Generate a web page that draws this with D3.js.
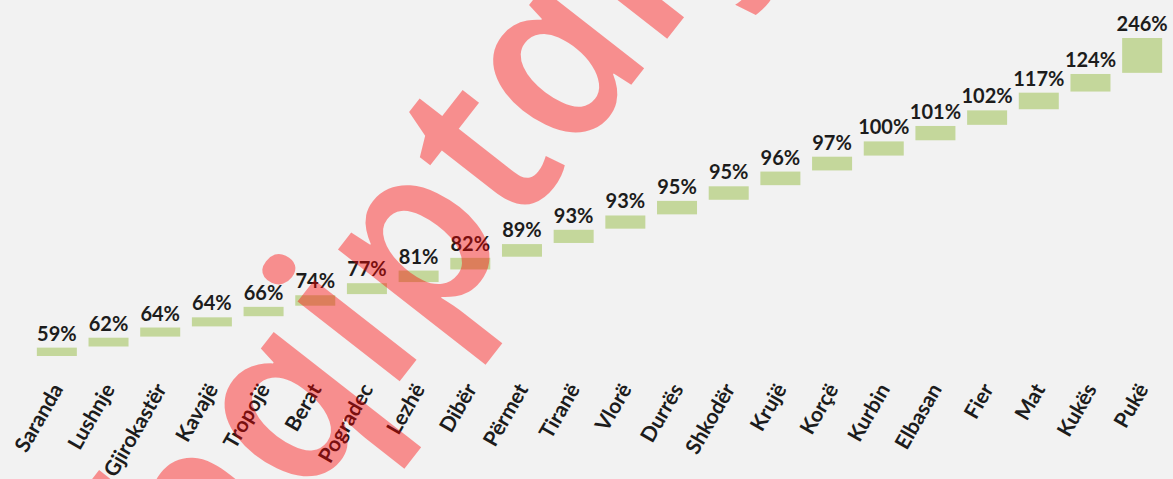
<!DOCTYPE html>
<html>
<head>
<meta charset="utf-8">
<script src="https://cdn.jsdelivr.net/npm/d3@7"></script>
<style>
  html, body { margin: 0; padding: 0; background: #f2f2f2; }
  svg { display: block; }
  .val { font-family: Lato, "Open Sans", sans-serif; font-weight: 700; font-size: 20px; fill: #1c1c1c; }
  .cat text { font-family: Lato, "Open Sans", sans-serif; font-weight: 700; font-size: 21px; fill: #1c1c1c; }
</style>
</head>
<body>
<div id="chart"></div>
<script>
// districts, sorted as in the picture
const districts = ["Saranda", "Lushnje", "Gjirokastër", "Kavajë", "Tropojë", "Berat", "Pogradec",
  "Lezhë", "Dibër", "Përmet", "Tiranë", "Vlorë", "Durrës", "Shkodër", "Krujë", "Korçë",
  "Kurbin", "Elbasan", "Fier", "Mat", "Kukës", "Pukë"];
// percent values
const values = [59, 62, 64, 64, 66, 74, 77, 81, 82, 89, 93, 93, 95, 95, 96, 97, 100, 101, 102, 117, 124, 246];

const watermark = "Shqiptarja.com";

const width = 1173, height = 479;
const gap = 8; // small space between the floating bars (value units)

// waterfall: each bar sits on top of the previous one
let acc = 0;
const rows = districts.map((d, i) => {
  const r = {name: d, value: values[i], base: acc};
  acc += values[i] + gap;
  return r;
});
const yMax = acc - gap;

const svg = d3.select("#chart").append("svg")
  .attr("width", width)
  .attr("height", height);

svg.append("rect").attr("width", width).attr("height", height).attr("fill", "#f2f2f2");

const x = d3.scaleBand()
  .domain(districts)
  .range([31, 1168])
  .paddingInner(0.226)
  .paddingOuter(0.113);

const y = d3.scaleLinear()
  .domain([0, yMax])
  .range([356, 38]);

svg.append("g")
  .selectAll("rect")
  .data(rows)
  .join("rect")
  .attr("x", d => x(d.name))
  .attr("width", x.bandwidth())
  .attr("y", d => y(d.base + d.value))
  .attr("height", d => y(d.base) - y(d.base + d.value))
  .attr("fill", "#c4d79b");

svg.append("g")
  .selectAll("text")
  .data(rows)
  .join("text")
  .attr("class", "val")
  .attr("x", d => x(d.name) + x.bandwidth() / 2)
  .attr("y", d => y(d.base + d.value) - 7)
  .attr("text-anchor", "middle")
  .text(d => d.value + "%");

const axis = svg.append("g")
  .attr("class", "cat")
  .attr("transform", "translate(0,389)")
  .call(d3.axisBottom(x).tickSize(0));
axis.select(".domain").remove();
axis.selectAll("text")
  .attr("x", 0).attr("y", 0).attr("dy", 0)
  .attr("text-anchor", "end")
  .attr("transform", "translate(7,0) rotate(-60)");

// red watermark across the chart
svg.append("text")
  .attr("transform", "translate(146,706) rotate(-52) skewX(12)")
  .attr("font-family", "'Open Sans', sans-serif")
  .attr("font-style", "italic")
  .attr("font-weight", 600)
  .attr("font-size", 240)
  .attr("fill", "#ff0000")
  .attr("fill-opacity", 0.41)
  .text(watermark);
</script>
</body>
</html>
